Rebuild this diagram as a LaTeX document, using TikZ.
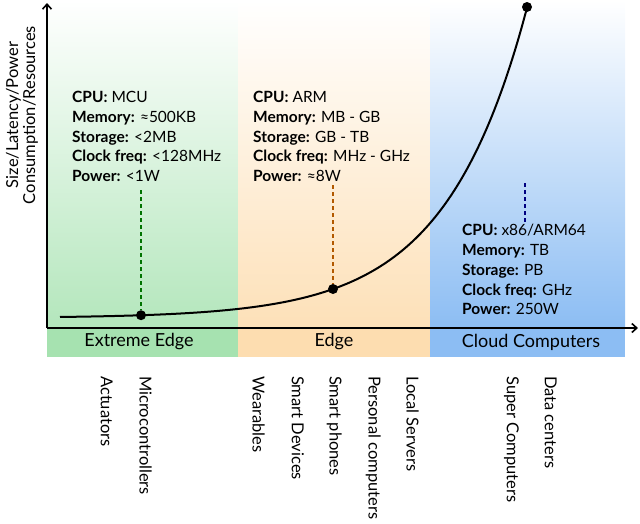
\documentclass[tikz,border=0pt]{standalone}
\usepackage{fontspec}
\usetikzlibrary{arrows.meta}
\setmainfont{Lato}
\begin{document}
\begin{tikzpicture}[x=1pt,y=-1pt,
  info/.style={anchor=north west,align=left,font=\fontsize{15.5}{19.8}\selectfont,inner sep=0},
  band/.style={font=\fontsize{18}{20}\selectfont},
  dev/.style={rotate=-90,anchor=north west,font=\fontsize{16.5}{18}\selectfont,inner sep=0},
  dot/.style={circle,fill=black,inner sep=0,minimum size=10pt},
  dsh/.style={line width=1.4pt,dash pattern=on 4pt off 3pt}]
\useasboundingbox (0,0) rectangle (640,523);
\definecolor{gB}{HTML}{A6E2B0}\definecolor{oB}{HTML}{FDDDB0}\definecolor{bB}{HTML}{8CBDF3}
\shade[top color=white,bottom color=gB!85] (47,0) rectangle (238,328);
\shade[top color=white,bottom color=oB!90] (238,0) rectangle (430,328);
\shade[top color=white,bottom color=bB] (430,0) rectangle (625,328);
\fill[gB] (47,328) rectangle (238,357);
\fill[oB] (238,328) rectangle (430,357);
\fill[bB] (430,328) rectangle (625,357);
\node[band] (ee) at (139,342) {Extreme Edge};
\node[band] (ed) at (334,342) {Edge};
\node[band] (cc) at (531,342) {Cloud Computers};
\coordinate (o) at (47,328);
\coordinate (ytop) at (47,3);
\coordinate (xend) at (638,328);
\draw[line width=1.6pt,-{Straight Barb[length=5pt,width=9pt]}] (o) -- (ytop);
\draw[line width=1.6pt,-{Straight Barb[length=5pt,width=9pt]}] (o) -- (xend);
\node[rotate=90,align=center,font=\fontsize{16.5}{17}\selectfont] (yl) at (22,115) {Size/Latency/Power\\Consumption/Resources};
\draw[line width=2pt,domain=60:527,samples=80,smooth] plot (\x,{318-1.03*exp(0.01222*(\x-60))});
\node[dot] (d1) at (141,315.2) {};
\node[dot] (d2) at (333,289) {};
\node[dot] (d3) at (527,7) {};
\coordinate (t1) at (141,190);
\coordinate (t2) at (333,185);
\coordinate (t3a) at (525,183);
\coordinate (t3b) at (525,222);
\draw[dsh,green!45!black] (t1) -- (d1);
\draw[dsh,orange!70!black] (t2) -- (d2);
\draw[dsh,blue!50!black] (t3a) -- (t3b);
\node[info] (i1) at (72,91) {\textbf{CPU:} MCU\\\textbf{Memory:} ≈500KB\\\textbf{Storage:} <2MB\\\textbf{Clock freq:} <128MHz\\\textbf{Power:} <1W};
\node[info] (i2) at (253,91) {\textbf{CPU:} ARM\\\textbf{Memory:} MB - GB\\\textbf{Storage:} GB - TB\\\textbf{Clock freq:} MHz - GHz\\\textbf{Power:} ≈8W};
\node[info] (i3) at (462,224) {\textbf{CPU:} x86/ARM64\\\textbf{Memory:} TB\\\textbf{Storage:} PB\\\textbf{Clock freq:} GHz\\\textbf{Power:} 250W};
\node[dev] (a1) at (113,376) {Actuators};
\node[dev] (a2) at (152,376) {Microcontrollers};
\node[dev] (a3) at (265,376) {Wearables};
\node[dev] (a4) at (304,376) {Smart Devices};
\node[dev] (a5) at (342,376) {Smart phones};
\node[dev] (a6) at (381,376) {Personal computers};
\node[dev] (a7) at (419,376) {Local Servers};
\node[dev] (a8) at (519,376) {Super Computers};
\node[dev] (a9) at (557,376) {Data centers};
\end{tikzpicture}
\end{document}
